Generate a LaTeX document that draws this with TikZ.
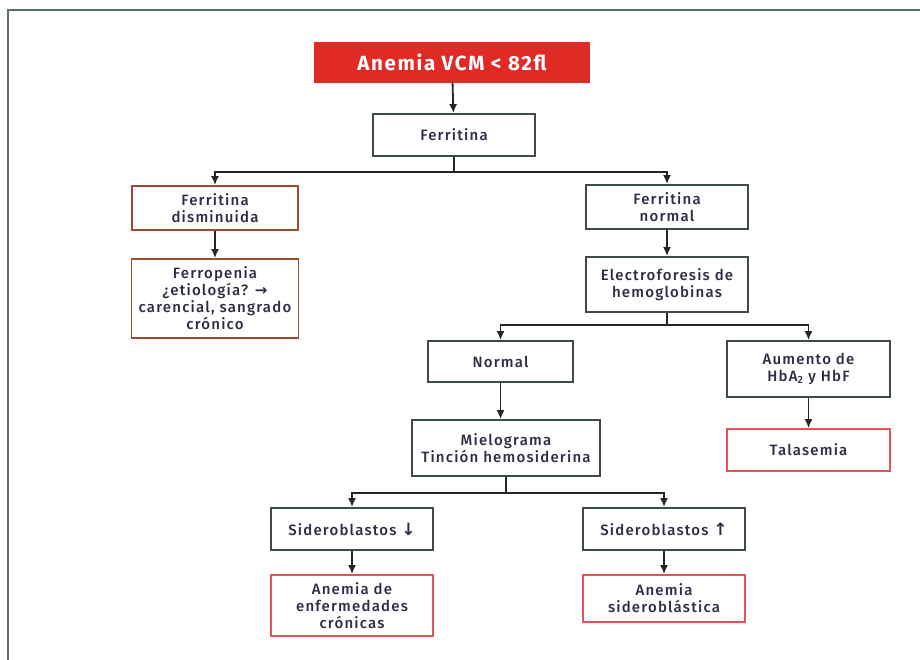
\documentclass[tikz,border=0pt]{standalone}
\usepackage{fontspec}
\setmainfont{Fira Sans}[UprightFont=* Medium,BoldFont=* Bold,LetterSpace=8]
\newfontfamily\arrowfont{DejaVu Sans}
\usepackage{xcolor}
\usepackage{tikz}
\usetikzlibrary{arrows.meta,positioning}

\definecolor{headred}{HTML}{E02A26}
\definecolor{endred}{HTML}{E65256}
\definecolor{ironbrown}{HTML}{9C4E2E}
\definecolor{boxgrey}{HTML}{3E4B4A}
\definecolor{framegrey}{HTML}{5E6B6B}
\definecolor{txtcol}{HTML}{2E2C45}

\begin{document}
\begin{tikzpicture}[
  x=1pt,y=-1pt,
  >={Latex[length=9pt,width=8pt]},
  every node/.style={font=\fontsize{15}{17}\selectfont,text=txtcol,
    align=center,inner sep=2pt},
  grey box/.style={draw=boxgrey,line width=1.8pt},
  red box/.style={draw=endred,line width=1.8pt},
  brown box/.style={draw=ironbrown,line width=1.8pt},
  head box/.style={fill=headred,text=white,
    font=\bfseries\fontsize{20.5}{22}\selectfont},
  link/.style={line width=1.8pt,black!85}]
  \useasboundingbox (0,0) rectangle (920,659);
  % frame, only top and left edge are visible
  \draw[framegrey,line width=2.2pt] (8,680) -- (8,10) -- (940,10);
  % boxes
  \node[head box,minimum width=276,minimum height=41] (anemia) at (452,62.5) {Anemia VCM < 82fl};
  \node[grey box,minimum width=162,minimum height=42] (ferr) at (454,135) {Ferritina};
  \node[brown box,minimum width=166,minimum height=44] (fdis) at (215,208) {Ferritina\\disminuida};
  \node[brown box,minimum width=167,minimum height=79] (ferrop) at (215,298.5)
    {Ferropenia\\¿etiología? {\arrowfont\bfseries →}\\carencial, sangrado\\crónico};
  \node[grey box,minimum width=162,minimum height=44] (fnor) at (667,207) {Ferritina\\normal};
  \node[grey box,minimum width=162,minimum height=55] (electro) at (667,284.5) {Electroforesis de\\hemoglobinas};
  \node[grey box,minimum width=145,minimum height=41] (normal) at (500.5,361.5) {Normal};
  \node[grey box,minimum width=163,minimum height=56] (hba) at (808.5,369) {Aumento de\\HbA\textsubscript{2} y HbF};
  \node[red box,minimum width=163,minimum height=42] (talas) at (808.5,450) {Talasemia};
  \node[grey box,minimum width=188,minimum height=56] (mielo) at (506,448) {Mielograma\\Tinción hemosiderina};
  \node[grey box,minimum width=162,minimum height=42] (sidlo) at (352,529) {Sideroblastos {\arrowfont\bfseries\fontsize{17}{17}\selectfont ↓}};
  \node[grey box,minimum width=162,minimum height=42] (sidhi) at (664,529) {Sideroblastos {\arrowfont\bfseries\fontsize{17}{17}\selectfont ↑}};
  \node[red box,minimum width=162,minimum height=61] (aec) at (352,605.5) {Anemia de\\enfermedades\\crónicas};
  \node[red box,minimum width=162,minimum height=47] (asid) at (664,598.5) {Anemia\\sideroblástica};
  % split points
  \coordinate (s1) at (454,172);
  \coordinate (s2) at (667,325);
  \coordinate (s3) at (506,493);
  % connectors
  \draw[link,->] (anemia) -- (ferr);
  \draw[link] (ferr) -- (s1);
  \draw[link,->] (s1) -| (fdis.north);
  \draw[link,->] (s1) -| (fnor.north);
  \draw[link,->] (fdis) -- (ferrop);
  \draw[link,->] (fnor) -- (electro);
  \draw[link] (electro) -- (s2);
  \draw[link,->] (s2) -| (normal.north);
  \draw[link,->] (s2) -| (hba.north);
  \draw[link,->] (normal) -- (normal |- mielo.north);
  \draw[link,->] (hba) -- (talas);
  \draw[link] (mielo) -- (s3);
  \draw[link,->] (s3) -| (sidlo.north);
  \draw[link,->] (s3) -| (sidhi.north);
  \draw[link,->] (sidlo) -- (aec);
  \draw[link,->] (sidhi) -- (asid);
\end{tikzpicture}
\end{document}
